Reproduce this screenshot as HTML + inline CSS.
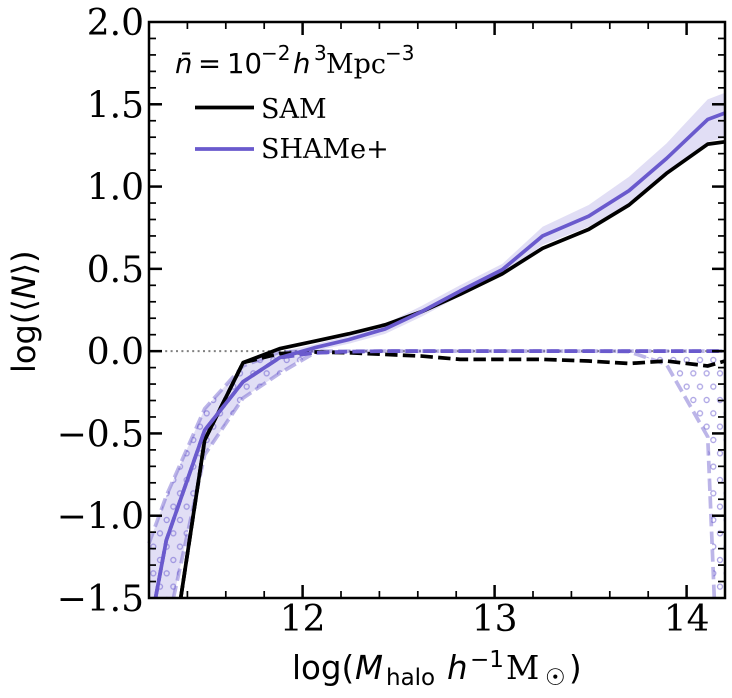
<!DOCTYPE html>
<html>
<head>
<meta charset="utf-8">
<style>
html,body{margin:0;padding:0;background:#fff;overflow:hidden;width:732px;height:698px;}
svg{display:block;}
.tick{font-family:"DejaVu Serif","Liberation Serif",serif;font-size:36px;fill:#000;}
.sans{font-family:"DejaVu Sans","Liberation Sans",sans-serif;fill:#000;}
.serif{font-family:"DejaVu Serif","Liberation Serif",serif;fill:#000;}
</style>
</head>
<body>
<svg id="chart" xmlns="http://www.w3.org/2000/svg" width="732" height="698" viewBox="0 0 732 698">
  <defs>
    <pattern id="hatch-o" patternUnits="userSpaceOnUse" x="0" y="0" width="13.3333" height="26.6667">
      <g fill="none" stroke="#6a5acd" stroke-opacity="0.55" stroke-width="1.3">
        <circle cx="6.6667" cy="13.3333" r="2.5"/>
        <circle cx="0" cy="0" r="2.5"/>
        <circle cx="13.3333" cy="0" r="2.5"/>
        <circle cx="0" cy="26.6667" r="2.5"/>
        <circle cx="13.3333" cy="26.6667" r="2.5"/>
      </g>
    </pattern>
  </defs>
  <g id="plot-area"></g>
  <g id="axes"></g>

  <text class="sans" y="73" font-size="27.5"><tspan x="175" font-style="italic">n̄</tspan><tspan x="198">=</tspan><tspan x="227">10</tspan><tspan x="261" y="60" font-size="20">−2</tspan><tspan x="293" y="73" font-style="italic">h</tspan><tspan x="314" y="60" font-size="20">3</tspan><tspan x="326" y="73" font-family="DejaVu Serif, serif" font-size="27">Mpc</tspan><tspan x="385" y="60" font-size="20">−3</tspan></text>

  <line x1="195" x2="254" y1="107.5" y2="107.5" stroke="#000" stroke-width="3.7"/>
  <text class="serif" x="261" y="118" font-size="27">SAM</text>
  <line x1="195" x2="254" y1="149" y2="149" stroke="#6a5acd" stroke-width="3.7"/>
  <text class="serif" x="261" y="158" font-size="27">SHAMe+</text>

  <text class="sans" y="679" font-size="32.5"><tspan x="292">log(</tspan><tspan x="355" font-style="italic">M</tspan><tspan x="386" y="685" font-size="23">halo</tspan><tspan x="447" y="679" font-style="italic">h</tspan><tspan x="470" y="667" font-size="23">−1</tspan><tspan x="506" y="679" font-family="DejaVu Serif, serif">M</tspan><tspan x="545" y="685" font-size="23">☉</tspan><tspan x="569" y="679">)</tspan></text>
  <text class="sans" transform="translate(35,373) rotate(-90)" font-size="32">log(⟨<tspan font-style="italic">N</tspan>⟩)</text>
</svg>
<script>
// Axis limits
const xDomain = [11.2, 14.2];
const yDomain = [-1.5, 2.0];
// Tick values and labels
const xTickValues = [12, 13, 14];
const xTickLabels = ["12", "13", "14"];
const yTickValues = [-1.5, -1.0, -0.5, 0.0, 0.5, 1.0, 1.5, 2.0];
const yTickLabels = ["−1.5", "−1.0", "−0.5", "0.0", "0.5", "1.0", "1.5", "2.0"];
// Halo mass bins
const massBins = [11.09, 11.29, 11.49, 11.69, 11.88, 12.06, 12.24, 12.43, 12.62, 12.82, 13.04, 13.25, 13.49, 13.70, 13.895, 14.11, 14.2];
// SAM
const samTotal = [-4.0, -2.08, -0.54, -0.07, 0.015, 0.06, 0.105, 0.16, 0.24, 0.345, 0.47, 0.625, 0.74, 0.888, 1.08, 1.258, 1.272];
const samCentral = [-4.0, -2.08, -0.54, -0.07, -0.015, -0.005, -0.01, -0.02, -0.03, -0.05, -0.05, -0.05, -0.06, -0.075, -0.06, -0.09, -0.06];
// SHAMe+ total
const shameTotal = [-2.4, -1.15, -0.48, -0.186, -0.04, 0.02, 0.07, 0.135, 0.24, 0.365, 0.495, 0.70, 0.82, 0.975, 1.17, 1.408, 1.447];
const shameTotalUpper = [-1.52, -0.88, -0.35, -0.09, -0.005, 0.04, 0.095, 0.165, 0.275, 0.40, 0.53, 0.756, 0.888, 1.06, 1.262, 1.53, 1.57];
const shameTotalLower = [-3.0, -1.7, -0.63, -0.285, -0.135, 0.0, 0.045, 0.105, 0.21, 0.335, 0.465, 0.645, 0.756, 0.888, 1.09, 1.272, 1.295];
// SHAMe+ centrals
const shameCentral = [-2.4, -1.15, -0.48, -0.186, -0.04, -0.01, -0.003, 0, 0, 0, 0, 0, 0, 0, 0, 0, 0];
const shameCentralUpper = [-1.52, -0.88, -0.35, -0.09, -0.005, 0, 0, 0, 0, 0, 0, 0, 0, 0, 0, 0, 0];
const shameCentralLower = [-3.0, -1.7, -0.63, -0.285, -0.135, -0.012, -0.004, 0, 0, 0, 0, 0, 0, -0.003, -0.08, -0.52, -3.1];

const plotLeft = 149, plotRight = 725, plotTop = 22, plotBottom = 598;
function xScale(v) { return plotLeft + (v - xDomain[0]) / (xDomain[1] - xDomain[0]) * (plotRight - plotLeft); }
function yScale(v) { return plotBottom - (v - yDomain[0]) / (yDomain[1] - yDomain[0]) * (plotBottom - plotTop); }

const NS = "http://www.w3.org/2000/svg";
const plot = document.getElementById("plot-area");
const axes = document.getElementById("axes");

function make(tag, attrs, parent) {
  const el = document.createElementNS(NS, tag);
  for (const k in attrs) el.setAttribute(k, attrs[k]);
  parent.appendChild(el);
  return el;
}
function fmt(p) { return p[0].toFixed(2) + "," + p[1].toFixed(2); }
function toPixels(xs, ys) { return xs.map((x, i) => [xScale(x), yScale(ys[i])]); }

// Liang-Barsky clip of a polyline to the plot rectangle, returned as path data
function linePath(xs, ys) {
  const pts = toPixels(xs, ys);
  let d = "", last = null;
  for (let i = 0; i < pts.length - 1; i++) {
    const a = pts[i], b = pts[i + 1];
    const dx = b[0] - a[0], dy = b[1] - a[1];
    let t0 = 0, t1 = 1, ok = true;
    const tests = [[-dx, a[0] - plotLeft], [dx, plotRight - a[0]], [-dy, a[1] - plotTop], [dy, plotBottom - a[1]]];
    for (const [p, q] of tests) {
      if (p === 0) { if (q < 0) ok = false; continue; }
      const r = q / p;
      if (p < 0) { if (r > t1) ok = false; else if (r > t0) t0 = r; }
      else { if (r < t0) ok = false; else if (r < t1) t1 = r; }
    }
    if (!ok) { last = null; continue; }
    const s = [a[0] + t0 * dx, a[1] + t0 * dy], e = [a[0] + t1 * dx, a[1] + t1 * dy];
    if (!last || Math.abs(last[0] - s[0]) > 0.01 || Math.abs(last[1] - s[1]) > 0.01) d += "M" + fmt(s);
    d += "L" + fmt(e);
    last = e;
  }
  return d;
}
// Sutherland-Hodgman clip of a band polygon to the plot rectangle
function bandPoints(xs, upper, lower) {
  let poly = toPixels(xs, upper).concat(toPixels(xs, lower).reverse());
  const edges = [
    [p => p[0] >= plotLeft, (a, b) => { const t = (plotLeft - a[0]) / (b[0] - a[0]); return [plotLeft, a[1] + t * (b[1] - a[1])]; }],
    [p => p[0] <= plotRight, (a, b) => { const t = (plotRight - a[0]) / (b[0] - a[0]); return [plotRight, a[1] + t * (b[1] - a[1])]; }],
    [p => p[1] >= plotTop, (a, b) => { const t = (plotTop - a[1]) / (b[1] - a[1]); return [a[0] + t * (b[0] - a[0]), plotTop]; }],
    [p => p[1] <= plotBottom, (a, b) => { const t = (plotBottom - a[1]) / (b[1] - a[1]); return [a[0] + t * (b[0] - a[0]), plotBottom]; }]
  ];
  for (const [inside, cross] of edges) {
    const out = [];
    for (let i = 0; i < poly.length; i++) {
      const a = poly[i], b = poly[(i + 1) % poly.length];
      if (inside(a)) { out.push(a); if (!inside(b)) out.push(cross(a, b)); }
      else if (inside(b)) out.push(cross(a, b));
    }
    poly = out;
  }
  return poly.map(fmt).join(" ");
}
const DASH = "12.4 5.3";
const LW = 3.7;
let el;

el = make("line", {x1: plotLeft, x2: plotRight, y1: yScale(0), y2: yScale(0), stroke: "#808080", "stroke-width": 2, "stroke-dasharray": "2 3.4"}, plot);



el = make("polygon", {points: bandPoints(massBins, shameTotalUpper, shameTotalLower), fill: "#6a5acd", "fill-opacity": 0.2, stroke: "none"}, plot);



el = make("polygon", {points: bandPoints(massBins, shameCentralUpper, shameCentralLower), fill: "url(#hatch-o)", stroke: "none"}, plot);



el = make("path", {d: linePath(massBins, shameCentralUpper), fill: "none", stroke: "#6a5acd", "stroke-opacity": 0.45, "stroke-width": LW, "stroke-dasharray": DASH}, plot);



el = make("path", {d: linePath(massBins, shameCentralLower), fill: "none", stroke: "#6a5acd", "stroke-opacity": 0.45, "stroke-width": LW, "stroke-dasharray": DASH}, plot);



el = make("path", {d: linePath(massBins, samCentral), fill: "none", stroke: "#000", "stroke-width": LW, "stroke-dasharray": DASH}, plot);



el = make("path", {d: linePath(massBins, samTotal), fill: "none", stroke: "#000", "stroke-width": LW, "stroke-linejoin": "round"}, plot);



el = make("path", {d: linePath(massBins, shameCentral), fill: "none", stroke: "#6a5acd", "stroke-width": LW, "stroke-dasharray": DASH}, plot);



el = make("path", {d: linePath(massBins, shameTotal), fill: "none", stroke: "#6a5acd", "stroke-width": LW, "stroke-linejoin": "round"}, plot);



function tick(x1, y1, x2, y2, w, name) {
  const t = make("line", {x1: x1, y1: y1, x2: x2, y2: y2, stroke: "#000", "stroke-width": w}, axes);
  
  
}
const majorLen = 13, minorLen = 7, majorW = 2.5, minorW = 1.7;

for (let m = 11.2; m < 14.21; m += 0.2) {
  const v = Math.round(m * 10) / 10;
  if (v <= xDomain[0] || v >= xDomain[1] || Number.isInteger(v)) continue;
  tick(xScale(v), plotBottom, xScale(v), plotBottom - minorLen, minorW, "x-minor-tick");
  tick(xScale(v), plotTop, xScale(v), plotTop + minorLen, minorW, "x-minor-tick-top");
}
for (let m = -14; m < 20; m += 1) {
  if (m % 5 === 0) continue;
  const v = m / 10;
  tick(plotLeft, yScale(v), plotLeft + minorLen, yScale(v), minorW, "y-minor-tick");
  tick(plotRight, yScale(v), plotRight - minorLen, yScale(v), minorW, "y-minor-tick-right");
}
xTickValues.forEach((v, i) => {
  tick(xScale(v), plotBottom, xScale(v), plotBottom - majorLen, majorW, "x-major-tick");
  tick(xScale(v), plotTop, xScale(v), plotTop + majorLen, majorW, "x-major-tick-top");
  const t = make("text", {x: xScale(v), y: 631, "text-anchor": "middle", "class": "tick"}, axes);
  
  
  t.textContent = xTickLabels[i];
});
yTickValues.forEach((v, i) => {
  if (v > yDomain[0] && v < yDomain[1]) {
    tick(plotLeft, yScale(v), plotLeft + majorLen, yScale(v), majorW, "y-major-tick");
    tick(plotRight, yScale(v), plotRight - majorLen, yScale(v), majorW, "y-major-tick-right");
  }
  const t = make("text", {x: 144, y: yScale(v) + 13, "text-anchor": "end", "class": "tick"}, axes);
  
  
  t.textContent = yTickLabels[i];
});
el = make("rect", {x: plotLeft, y: plotTop, width: plotRight - plotLeft, height: plotBottom - plotTop, fill: "none", stroke: "#000", "stroke-width": 2.5}, axes);


</script>
</body>
</html>
